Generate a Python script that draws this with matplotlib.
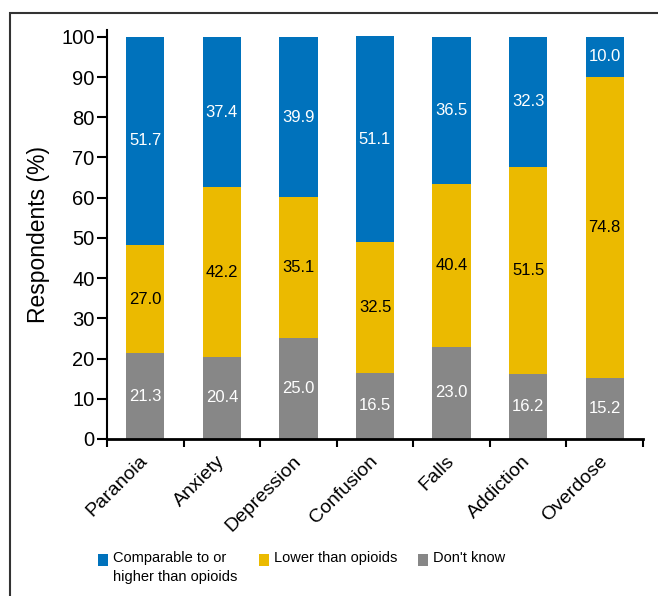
import matplotlib
matplotlib.use("Agg")
import matplotlib.pyplot as plt
from matplotlib.patches import Rectangle
import numpy as np

plt.rcParams['font.family'] = ['Liberation Sans', 'DejaVu Sans']

categories = ["Paranoia", "Anxiety", "Depression", "Confusion", "Falls", "Addiction", "Overdose"]
dont_know = [21.3, 20.4, 25.0, 16.5, 23.0, 16.2, 15.2]
lower = [27.0, 42.2, 35.1, 32.5, 40.4, 51.5, 74.8]
comparable = [51.7, 37.4, 39.9, 51.1, 36.5, 32.3, 10.0]
series_names = ["Comparable to or\nhigher than opioids", "Lower than opioids", "Don't know"]

c_blue = "#0072BC"
c_yellow = "#EBBA00"
c_gray = "#878787"

fig = plt.figure(figsize=(6.58, 5.96), dpi=100)
ax = fig.add_axes([107/658, 1-439/596, (643-107)/658, (439-30)/596])

x = np.arange(len(categories))
w = 0.5
dk = np.array(dont_know); lo = np.array(lower); co = np.array(comparable)
ax.bar(x, dk, w, color=c_gray)
ax.bar(x, lo, w, bottom=dk, color=c_yellow)
ax.bar(x, co, w, bottom=dk+lo, color=c_blue)

for i in range(len(categories)):
    ax.text(x[i], dk[i]/2, f"{dk[i]:.1f}", ha='center', va='center', color='white', fontsize=12)
    ax.text(x[i], dk[i]+lo[i]/2, f"{lo[i]:.1f}", ha='center', va='center', color='black', fontsize=12)
    ax.text(x[i], dk[i]+lo[i]+co[i]/2, f"{co[i]:.1f}", ha='center', va='center', color='white', fontsize=12)

ax.set_xlim(-0.5, len(categories)-0.5)
ax.set_ylim(0, 101.7)
ax.set_yticks(np.arange(0, 101, 10))
ax.set_xticks(np.arange(-0.5, len(categories), 1.0))
ax.set_xticklabels([])
ax.set_xticks(x, minor=True)
ax.set_xticklabels(categories, minor=True, rotation=45, ha='right', va='center',
                   rotation_mode='anchor', fontsize=14)
ax.tick_params(axis='x', which='minor', length=0, pad=14)
ax.tick_params(axis='x', which='major', length=6, width=1.5, direction='out')
ax.tick_params(axis='y', length=7, width=1.5, direction='out', labelsize=14.5, pad=2)
for s in ['top', 'right']:
    ax.spines[s].set_visible(False)
ax.spines['left'].set_linewidth(1.5)
ax.spines['bottom'].set_linewidth(2)
ax.set_ylabel("Respondents (%)", fontsize=16.5, labelpad=8)

# figure border
fig.patches.append(Rectangle((10/658, -0.1), 1.2, (1-13/596)+0.1, transform=fig.transFigure,
                             fill=False, edgecolor='#333333', linewidth=1.5))

# legend
items = [(c_blue, series_names[0], 98), (c_yellow, series_names[1], 259), (c_gray, series_names[2], 418)]
for col, name, px in items:
    fig.patches.append(Rectangle((px/658, 1-566/596), 10/658, 12/596, transform=fig.transFigure,
                                 facecolor=col, edgecolor='none'))
    fig.text((px+15)/658, 1-551/596, name, ha='left', va='top', fontsize=10.5, linespacing=1.5)

fig.savefig("out.png", dpi=100)
